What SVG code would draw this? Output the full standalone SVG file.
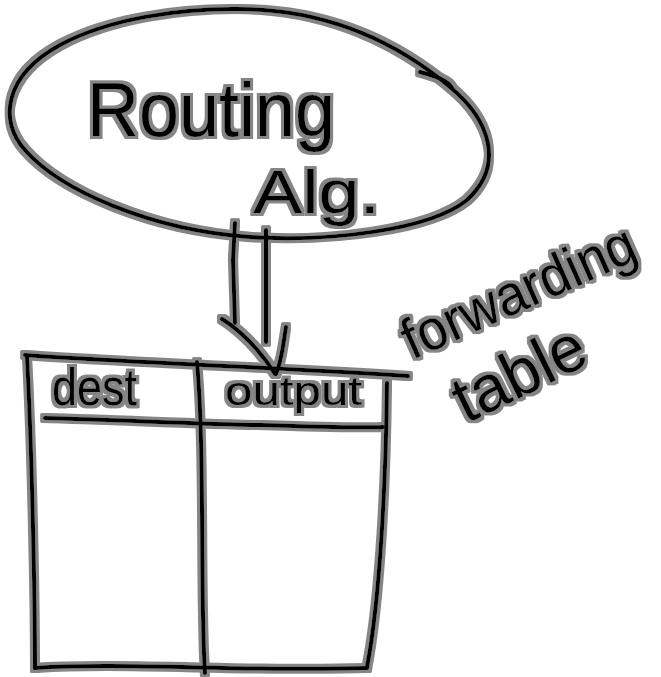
<svg xmlns="http://www.w3.org/2000/svg" width="661" height="677" viewBox="0 0 661 677">
  <defs>
    <filter id="halo" x="-5%" y="-5%" width="110%" height="110%">
      <feMorphology in="SourceAlpha" operator="dilate" radius="2.6" result="d"/>
      <feGaussianBlur in="d" stdDeviation="0.5" result="b"/>
      <feFlood flood-color="#858585"/>
      <feComposite in2="b" operator="in" result="g"/>
      <feMerge><feMergeNode in="g"/><feMergeNode in="SourceGraphic"/></feMerge>
    </filter>
  </defs>
  <style>
    .ink { fill: none; stroke: #000; stroke-width: 4; stroke-linecap: round; stroke-linejoin: round; }
    .hand { font-family: "Liberation Sans", Arial, sans-serif; fill: #000; }
  </style>
  <rect width="661" height="677" fill="#fff"/>
  <g filter="url(#halo)">
    <g id="routing-alg">
      <path class="ink" d="M233,9 C330,8 400,45 450,87 C490,120 505,165 467,200 C430,230 330,242 250,237 C150,230 60,190 25,150 C-2,120 5,75 60,45 C110,18 180,9 233,9 Z"/>
      <path class="ink" d="M420,72 C435,76 448,80 452,88"/>
      <text class="hand" x="87" y="136" font-size="76" textLength="248" lengthAdjust="spacingAndGlyphs">Routing</text>
      <text class="hand" x="253" y="213" font-size="62" textLength="127" lengthAdjust="spacingAndGlyphs">Alg.</text>
    </g>
    <g id="connectors">
      <path class="ink" d="M235,223 L233,260 L235,323"/>
      <path class="ink" d="M266,230 L266,342"/>
      <path class="ink" d="M222,319 C240,330 260,350 275,374"/>
      <path class="ink" d="M286,327 C283,345 282,360 276,374"/>
    </g>
    <g id="forwarding-table">
      <path class="ink" d="M25,355 C120,362 250,366 408,376"/>
      <path class="ink" d="M27,357 C32,450 35,600 35,668"/>
      <path class="ink" d="M35,668 C120,662 250,672 367,668"/>
      <path class="ink" d="M387,383 C386,480 380,600 367,667"/>
      <path class="ink" d="M197,362 C205,450 200,600 205,673"/>
      <path class="ink" d="M45,418 C120,420 200,424 260,425 C320,427 360,428 383,427"/>
      <text class="hand" x="52" y="405" font-size="52" textLength="85" lengthAdjust="spacingAndGlyphs">dest</text>
      <text class="hand" x="225" y="405" font-size="40" textLength="137" lengthAdjust="spacingAndGlyphs">output</text>
    </g>
    <g id="label-forwarding-table">
      <text class="hand" x="412" y="360" font-size="57" textLength="250" lengthAdjust="spacingAndGlyphs" transform="rotate(-24 412 360)">forwarding</text>
      <text class="hand" x="466" y="424" font-size="66" textLength="140" lengthAdjust="spacingAndGlyphs" transform="rotate(-26 466 424)">table</text>
    </g>
  </g>
</svg>
